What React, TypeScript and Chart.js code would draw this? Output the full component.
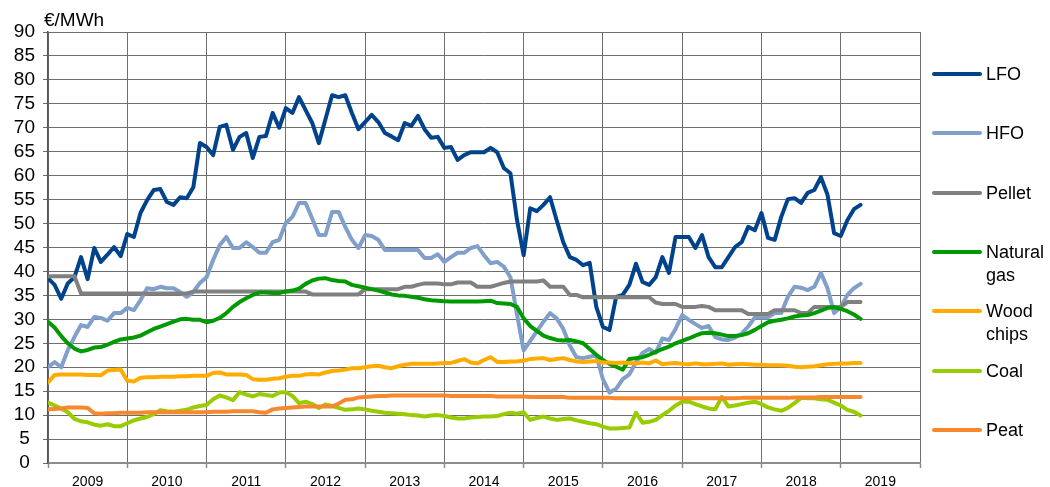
import React, { useEffect, useRef } from "react";
import { Chart, registerables } from "chart.js";

Chart.register(...registerables);

// Monthly data, Jan 2009 .. Apr 2019 (index 0 = Jan 2009)
const YEARS = ["2009", "2010", "2011", "2012", "2013", "2014", "2015", "2016", "2017", "2018", "2019"];
const Y_TICKS = [0, 5, 10, 15, 20, 25, 30, 35, 40, 45, 50, 55, 60, 65, 70, 75, 80, 85, 90];
const SERIES_NAMES = ["LFO", "HFO", "Pellet", "Natural gas", "Wood chips", "Coal", "Peat"];

const LFO = [
  38.6, 37.2, 34.3, 37.5, 38.8, 43.0, 38.4, 44.9, 42.0, 43.5, 45.1, 43.2,
  47.8, 47.2, 52.2, 54.9, 57.0, 57.2, 54.5, 53.9, 55.5, 55.3, 57.6, 66.8,
  66.0, 64.3, 70.2, 70.6, 65.4, 68.1, 68.9, 63.7, 68.1, 68.3, 73.1, 70.0,
  74.1, 73.1, 76.4, 73.7, 71.0, 66.8, 71.8, 76.8, 76.4, 76.8, 73.1, 69.7,
  71.2, 72.7, 71.2, 68.9, 68.2, 67.4, 71.0, 70.4, 72.5, 69.7, 67.9, 68.1,
  65.8, 66.0, 63.3, 64.3, 64.9, 64.9, 64.9, 65.8, 64.9, 61.6, 60.5, 50.7,
  43.4, 53.2, 52.6, 53.9, 55.5, 50.7, 46.1, 43.0, 42.4, 41.3, 41.8, 32.6,
  28.4, 27.8, 34.7, 35.1, 37.2, 41.6, 37.8, 37.2, 38.8, 43.0, 39.7, 47.2,
  47.2, 47.2, 44.9, 47.6, 43.0, 40.9, 40.9, 43.0, 45.1, 46.1, 49.3, 48.6,
  52.2, 47.0, 46.6, 51.4, 55.1, 55.3, 54.3, 56.4, 57.0, 59.7, 56.0, 48.0,
  47.4, 50.7, 53.0, 53.9,
];

const HFO = [
  20.0, 21.1, 20.0, 23.6, 26.3, 28.8, 28.4, 30.5, 30.3, 29.7, 31.3, 31.3,
  32.4, 31.9, 34.0, 36.5, 36.3, 36.8, 36.5, 36.5, 35.7, 34.7, 35.7, 37.6,
  38.8, 42.4, 45.5, 47.2, 44.9, 44.9, 46.1, 45.1, 43.9, 43.9, 46.1, 46.6,
  50.1, 51.4, 54.3, 54.3, 51.0, 47.6, 47.6, 52.4, 52.4, 49.3, 46.6, 44.9,
  47.6, 47.4, 46.6, 44.5, 44.5, 44.5, 44.5, 44.5, 44.5, 42.8, 42.8, 43.6,
  42.0, 43.0, 43.9, 43.9, 44.9, 45.3, 43.4, 41.7, 42.0, 41.0, 38.8, 31.0,
  23.5, 25.5, 27.5, 29.5, 31.3, 30.2, 28.0, 24.5, 22.1, 21.9, 22.2, 22.5,
  17.5, 14.7, 15.5, 17.5, 18.5, 21.0, 23.0, 23.8, 23.0, 26.0, 25.7, 28.0,
  30.9, 29.9, 29.0, 28.2, 28.6, 26.3, 25.8, 25.7, 26.2, 27.0, 28.5, 30.4,
  30.4, 30.4, 31.3, 31.3, 34.7, 36.8, 36.6, 36.1, 36.8, 39.7, 36.5, 31.3,
  32.6, 35.1, 36.5, 37.4,
];

const PELLET = [
  39.0, 39.0, 39.0, 39.0, 39.0, 35.4, 35.4, 35.4, 35.4, 35.4, 35.4, 35.4,
  35.4, 35.4, 35.4, 35.4, 35.4, 35.4, 35.4, 35.4, 35.4, 35.4, 35.8, 35.8,
  35.8, 35.8, 35.8, 35.8, 35.8, 35.8, 35.8, 35.8, 35.8, 35.8, 35.8, 35.8,
  35.8, 35.8, 35.8, 35.8, 35.2, 35.2, 35.2, 35.2, 35.2, 35.2, 35.2, 35.2,
  36.3, 36.3, 36.3, 36.3, 36.3, 36.3, 36.8, 36.8, 37.2, 37.5, 37.5, 37.5,
  37.3, 37.3, 37.7, 37.7, 37.7, 36.8, 36.8, 36.8, 37.2, 37.6, 37.9, 37.9,
  37.9, 37.9, 37.9, 38.1, 36.8, 36.8, 36.8, 35.1, 35.1, 34.6, 34.6, 34.6,
  34.6, 34.6, 34.6, 34.6, 34.6, 34.6, 34.6, 34.6, 33.5, 33.2, 33.2, 33.2,
  32.6, 32.6, 32.6, 32.8, 32.6, 31.9, 31.9, 31.9, 31.9, 31.9, 31.1, 31.1,
  31.1, 31.1, 31.9, 31.9, 31.9, 31.9, 31.3, 31.3, 32.6, 32.6, 32.6, 32.6,
  32.6, 33.6, 33.6, 33.6,
];

const NATURAL_GAS = [
  29.5, 28.3, 26.5, 25.0, 23.9, 23.3, 23.6, 24.1, 24.2, 24.7, 25.3, 25.8,
  26.0, 26.2, 26.6, 27.3, 28.0, 28.5, 29.0, 29.5, 30.0, 30.1, 29.9, 29.9,
  29.4, 29.7, 30.3, 31.3, 32.6, 33.6, 34.4, 35.1, 35.6, 35.6, 35.5, 35.5,
  35.8, 36.0, 36.4, 37.4, 38.1, 38.5, 38.6, 38.2, 38.0, 37.9, 37.2, 36.9,
  36.6, 36.3, 36.0, 35.6, 35.2, 35.0, 34.9, 34.7, 34.5, 34.2, 34.0, 33.9,
  33.8, 33.7, 33.7, 33.7, 33.7, 33.7, 33.8, 33.9, 33.4, 33.3, 33.2, 32.6,
  30.2, 28.6, 27.6, 26.6, 26.1, 25.7, 25.6, 25.7, 25.4, 25.0, 23.8, 22.6,
  21.5, 20.7, 20.1, 19.5, 21.7, 21.9, 22.1, 22.6, 23.2, 23.8, 24.3, 25.0,
  25.5, 26.0, 26.6, 27.1, 27.2, 27.1, 26.8, 26.5, 26.5, 26.7, 27.1, 27.8,
  28.6, 29.4, 29.7, 29.9, 30.2, 30.6, 30.8, 30.9, 31.3, 31.8, 32.4, 32.5,
  32.2, 31.7, 31.0, 30.1,
];

const WOOD_CHIPS = [
  16.8, 18.4, 18.5, 18.5, 18.5, 18.5, 18.4, 18.4, 18.3, 19.3, 19.4, 19.5,
  17.2, 17.0, 17.8, 17.9, 17.9, 18.0, 18.0, 18.0, 18.1, 18.1, 18.2, 18.2,
  18.2, 18.8, 18.9, 18.5, 18.5, 18.5, 18.4, 17.5, 17.4, 17.4, 17.6, 17.7,
  18.0, 18.2, 18.2, 18.5, 18.6, 18.5, 18.9, 19.2, 19.3, 19.5, 19.8, 19.8,
  20.0, 20.2, 20.3, 20.0, 19.8, 20.2, 20.5, 20.7, 20.7, 20.7, 20.7, 20.8,
  20.9, 20.9, 21.3, 21.7, 21.0, 20.8, 21.5, 22.1, 21.1, 21.1, 21.2, 21.2,
  21.4, 21.7, 21.8, 21.9, 21.5, 21.7, 21.9, 21.5, 21.2, 21.1, 21.2, 21.3,
  21.0, 21.0, 20.9, 21.0, 20.9, 20.8, 21.0, 20.8, 21.4, 20.6, 20.8, 20.9,
  20.7, 20.6, 20.8, 20.6, 20.6, 20.7, 20.8, 20.5, 20.6, 20.7, 20.6, 20.5,
  20.5, 20.4, 20.4, 20.4, 20.3, 20.1, 20.0, 20.1, 20.2, 20.4, 20.6, 20.7,
  20.8, 20.8, 20.9, 20.9,
];

const COAL = [
  12.6, 12.0, 11.4, 10.6, 9.2, 8.7, 8.5, 8.0, 7.8, 8.1, 7.7, 7.7,
  8.3, 8.9, 9.3, 9.6, 10.2, 11.0, 10.8, 10.7, 10.9, 11.1, 11.6, 11.9,
  12.1, 13.3, 14.1, 13.7, 13.1, 14.8, 14.3, 13.9, 14.4, 14.2, 14.0, 14.7,
  14.8, 14.0, 12.5, 12.8, 12.3, 11.5, 12.2, 11.9, 11.5, 11.1, 11.2, 11.4,
  11.2, 10.9, 10.7, 10.5, 10.4, 10.3, 10.2, 10.0, 9.9, 9.7, 9.9, 10.0,
  9.8, 9.5, 9.3, 9.3, 9.5, 9.6, 9.7, 9.7, 9.8, 10.2, 10.5, 10.3,
  10.6, 9.0, 9.4, 9.7, 9.3, 9.0, 9.2, 9.3, 8.9, 8.6, 8.3, 8.1,
  7.6, 7.2, 7.2, 7.3, 7.4, 10.5, 8.4, 8.6, 9.0, 10.0, 10.9, 12.0,
  12.8, 12.8, 12.3, 11.8, 11.4, 11.2, 13.8, 11.8, 12.0, 12.3, 12.6, 12.8,
  12.3, 11.6, 11.2, 10.9, 11.5, 12.5, 13.6, 13.5, 13.5, 13.3, 13.2, 12.6,
  12.0, 11.1, 10.7, 9.9,
];

const PEAT = [
  11.2, 11.3, 11.4, 11.6, 11.6, 11.6, 11.5, 10.4, 10.3, 10.4, 10.4, 10.5,
  10.5, 10.5, 10.5, 10.6, 10.6, 10.6, 10.6, 10.6, 10.6, 10.6, 10.6, 10.6,
  10.6, 10.7, 10.7, 10.7, 10.8, 10.8, 10.8, 10.8, 10.6, 10.5, 11.2, 11.4,
  11.5, 11.6, 11.7, 11.8, 11.8, 11.8, 11.8, 11.8, 12.4, 13.2, 13.3, 13.7,
  13.8, 13.9, 14.0, 14.0, 14.1, 14.1, 14.1, 14.1, 14.1, 14.1, 14.1, 14.1,
  14.1, 14.0, 14.0, 14.0, 14.0, 14.0, 14.0, 14.0, 13.9, 13.9, 13.9, 13.9,
  13.9, 13.8, 13.8, 13.8, 13.8, 13.8, 13.8, 13.6, 13.6, 13.6, 13.6, 13.6,
  13.6, 13.6, 13.5, 13.5, 13.5, 13.5, 13.5, 13.5, 13.5, 13.5, 13.5, 13.5,
  13.5, 13.5, 13.5, 13.5, 13.5, 13.5, 13.5, 13.5, 13.5, 13.6, 13.6, 13.6,
  13.6, 13.6, 13.6, 13.6, 13.6, 13.7, 13.7, 13.7, 13.7, 13.8, 13.8, 13.8,
  13.8, 13.8, 13.8, 13.8,
];

const SERIES_VALUES = [LFO, HFO, PELLET, NATURAL_GAS, WOOD_CHIPS, COAL, PEAT];
const COLORS = ["#00428C", "#809FCA", "#808080", "#009A00", "#FFAC00", "#99CC00", "#F7882D"];

const FONT = '"Liberation Sans", Arial, Helvetica, sans-serif';
const GRID = "#6e6e6e";

const LEGEND_POS = [74, 133, 193, 252, 311, 371, 430];
const LEGEND_LINES = [["LFO"], ["HFO"], ["Pellet"], ["Natural", "gas"], ["Wood", "chips"], ["Coal"], ["Peat"]];

export default function App() {
  const ref = useRef<HTMLCanvasElement | null>(null);

  useEffect(() => {
    if (!ref.current) return;
    const monthsSpan = YEARS.length * 12;
    const datasets = SERIES_NAMES.map((name, k) => ({
      label: name,
      data: SERIES_VALUES[k].map((v, i) => ({ x: i, y: v })),
      borderColor: COLORS[k],
      backgroundColor: COLORS[k],
      borderWidth: 4,
      pointRadius: 0,
      tension: 0,
      fill: false,
      borderCapStyle: "round" as const,
      borderJoinStyle: "round" as const,
      order: SERIES_NAMES.length - k,
    }));
    const chart = new Chart(ref.current, {
      type: "line",
      data: { datasets },
      options: {
        animation: false,
        responsive: false,
        devicePixelRatio: 1,
        layout: { padding: { left: 0, right: 130, top: 32, bottom: 0 } },
        plugins: { legend: { display: false }, tooltip: { enabled: false }, title: { display: false } },
        scales: {
          x: {
            type: "linear",
            min: 0,
            max: monthsSpan,
            afterBuildTicks: (scale: any) => {
              const t: any[] = [];
              for (let v = 0; v <= monthsSpan; v += 6) t.push({ value: v });
              scale.ticks = t;
            },
            afterFit: (scale: any) => {
              scale.height = 24;
            },
            border: { display: true, color: "#8c8c8c", width: 2 },
            grid: {
              color: (ctx: any) => (ctx.tick && ctx.tick.value % 12 === 0 ? GRID : "rgba(0,0,0,0)"),
              tickColor: (ctx: any) => (ctx.tick && ctx.tick.value % 12 === 0 ? "#8c8c8c" : "rgba(0,0,0,0)"),
              borderDash: [1, 1],
              lineWidth: 1,
              tickLength: 5,
              tickWidth: 1.5,
            },
            ticks: {
              autoSkip: false,
              maxRotation: 0,
              padding: 6,
              color: "#000",
              font: { family: FONT, size: 14 },
              callback: (value: any) => {
                const v = Number(value);
                if (v % 12 !== 6) return "";
                return YEARS[(v - 6) / 12] ?? "";
              },
            },
          },
          y: {
            type: "linear",
            min: 0,
            max: 90,
            afterBuildTicks: (scale: any) => {
              scale.ticks = Y_TICKS.map((v) => ({ value: v }));
            },
            afterFit: (scale: any) => {
              scale.width = 48;
            },
            border: { display: true, color: "#555", width: 1.5 },
            grid: {
              color: GRID,
              tickColor: GRID,
              borderDash: [1, 1],
              lineWidth: 1,
              tickLength: 5,
            },
            ticks: {
              autoSkip: false,
              padding: 8,
              crossAlign: "center",
              color: "#000",
              font: { family: FONT, size: 19 },
            },
          },
        },
      },
    });
    return () => chart.destroy();
  }, []);

  return (
    <div
      style={{
        position: "absolute",
        left: 0,
        top: 0,
        width: 1050,
        height: 487,
        background: "#fff",
        fontFamily: FONT,
        overflow: "hidden",
      }}
    >
      <canvas ref={ref} width={1050} height={487} style={{ position: "absolute", left: 0, top: 0 }} />
      <div
        style={{
          position: "absolute",
          left: 44,
          top: 10,
          fontSize: 19,
          lineHeight: "20px",
          color: "#000",
          whiteSpace: "nowrap",
        }}
      >
        €/MWh
      </div>
      {SERIES_NAMES.map((name, k) => (
        <React.Fragment key={name}>
          <div
            style={{
              position: "absolute",
              left: 932,
              top: LEGEND_POS[k] - 2,
              width: 50,
              height: 4,
              borderRadius: 2,
              background: COLORS[k],
            }}
          />
          <div
            style={{
              position: "absolute",
              left: 986,
              top: LEGEND_POS[k] - 11.5,
              fontSize: 18,
              lineHeight: "23px",
              color: "#000",
              whiteSpace: "nowrap",
            }}
          >
            {LEGEND_LINES[k].map((l, j) => (
              <div key={j}>{l}</div>
            ))}
          </div>
        </React.Fragment>
      ))}
    </div>
  );
}
